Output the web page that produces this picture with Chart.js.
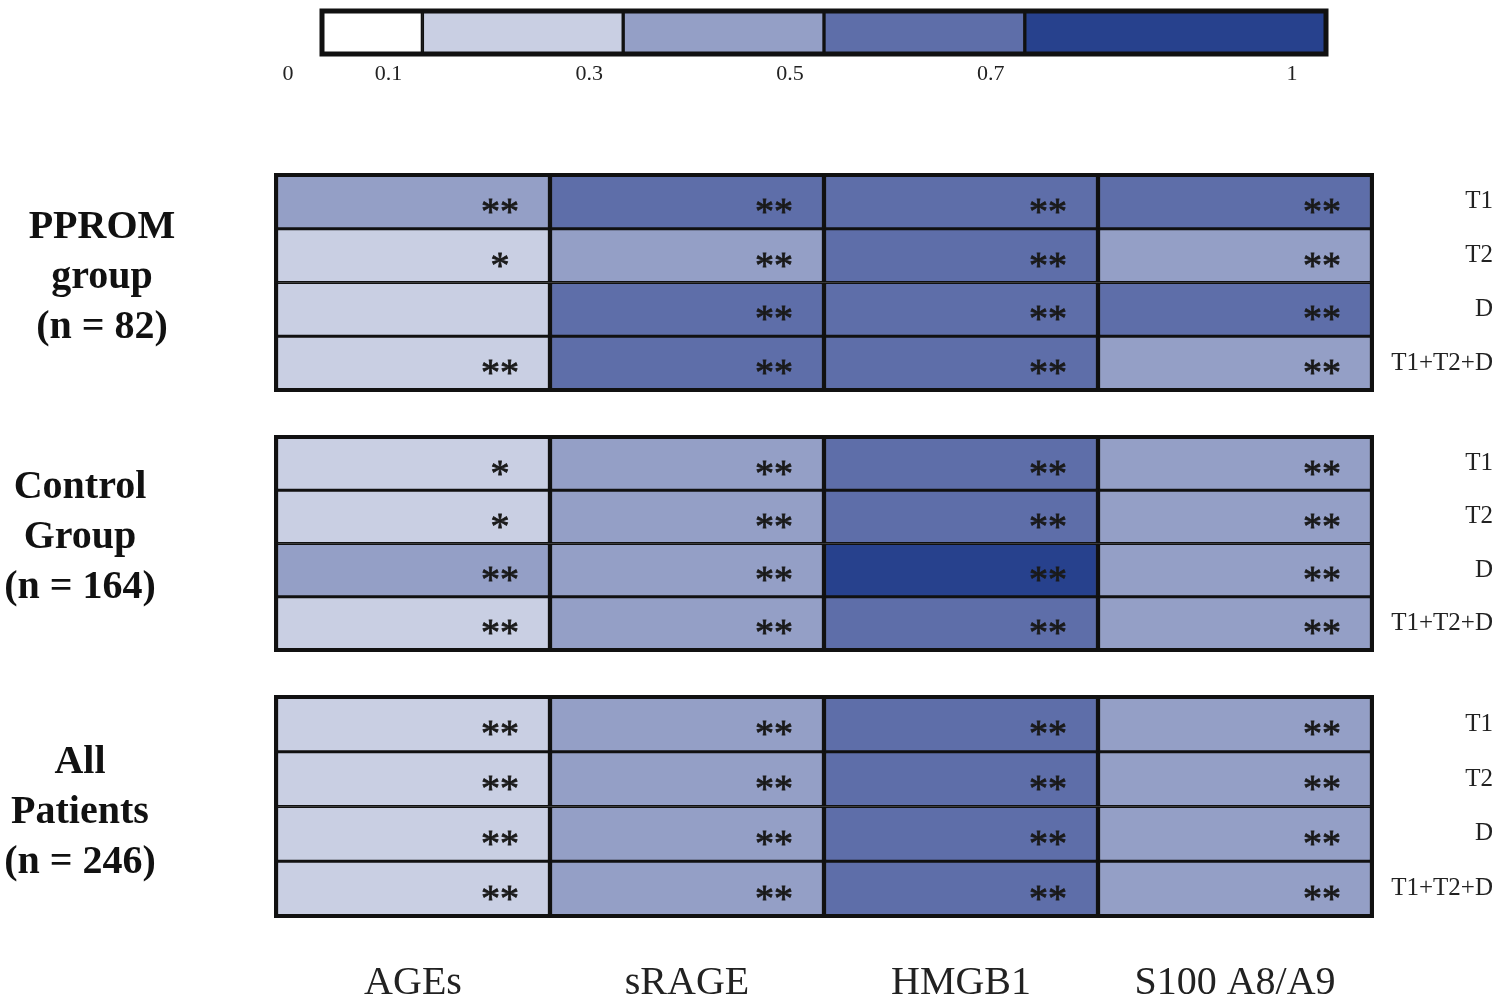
<!DOCTYPE html>
<html><head><meta charset="utf-8">
<script src="https://cdn.jsdelivr.net/npm/chart.js@4.4.0/dist/chart.umd.min.js"></script>
<style>
html,body{margin:0;padding:0;background:#fff;}
#wrap{position:relative;width:1500px;height:1001px;overflow:hidden;background:#fff;}
.cv{position:absolute;left:0;width:1500px;}
.glabel{position:absolute;width:200px;font-family:"Liberation Serif","Times New Roman",serif;font-weight:bold;font-size:40px;line-height:50px;text-align:center;color:#111;}
</style></head><body>
<div id="wrap">
  <div class="cv" style="top:0;height:100px"><canvas id="cbar"></canvas></div>
  <div class="cv" style="top:160px;height:245px"><canvas id="g1"></canvas></div>
  <div class="cv" style="top:422px;height:243px"><canvas id="g2"></canvas></div>
  <div class="cv" style="top:682px;height:319px"><canvas id="g3"></canvas></div>
  <div class="glabel" id="lab1" style="left:2px;top:200px"></div>
  <div class="glabel" id="lab2" style="left:-20px;top:460px"></div>
  <div class="glabel" id="lab3" style="left:-20px;top:735px"></div>
</div>
<script>
// ---- data ----
const columns = ['AGEs', 'sRAGE', 'HMGB1', 'S100 A8/A9'];
const timepoints = ['T1', 'T2', 'D', 'T1+T2+D'];
const groupLabels1 = ['PPROM', 'group', '(n = 82)'];
const groupLabels2 = ['Control', 'Group', '(n = 164)'];
const groupLabels3 = ['All', 'Patients', '(n = 246)'];
const colorBreaks = [0, 0.1, 0.3, 0.5, 0.7, 1];
const colorTickLabels = ['0', '0.1', '0.3', '0.5', '0.7', '1'];
const binColors = ['#ffffff', '#c9cfe3', '#949fc6', '#5e6ea9', '#27418d'];
// rows = timepoints, columns = markers
const ppromValues = [
  [0.4, 0.6, 0.6, 0.6],
  [0.2, 0.4, 0.6, 0.4],
  [0.2, 0.6, 0.6, 0.6],
  [0.2, 0.6, 0.6, 0.4]
];
const ppromSig = [
  ['**', '**', '**', '**'],
  ['*', '**', '**', '**'],
  ['', '**', '**', '**'],
  ['**', '**', '**', '**']
];
const controlValues = [
  [0.2, 0.4, 0.6, 0.4],
  [0.2, 0.4, 0.6, 0.4],
  [0.4, 0.4, 0.8, 0.4],
  [0.2, 0.4, 0.6, 0.4]
];
const controlSig = [
  ['*', '**', '**', '**'],
  ['*', '**', '**', '**'],
  ['**', '**', '**', '**'],
  ['**', '**', '**', '**']
];
const allValues = [
  [0.2, 0.4, 0.6, 0.4],
  [0.2, 0.4, 0.6, 0.4],
  [0.2, 0.4, 0.6, 0.4],
  [0.2, 0.4, 0.6, 0.4]
];
const allSig = [
  ['**', '**', '**', '**'],
  ['**', '**', '**', '**'],
  ['**', '**', '**', '**'],
  ['**', '**', '**', '**']
];

// ---- helpers ----
const SERIF = '"Liberation Serif", "Times New Roman", serif';
function colorFor(v) {
  for (let k = 0; k < binColors.length; k++) {
    if (v >= colorBreaks[k] && v < colorBreaks[k + 1]) return binColors[k];
  }
  return binColors[binColors.length - 1];
}
const framePlugin = {
  id: 'frame',
  afterDatasetsDraw(chart, args, opts) {
    const {ctx, chartArea: a} = chart;
    ctx.save();
    ctx.strokeStyle = '#111';
    ctx.lineWidth = opts.width || 4;
    ctx.strokeRect(a.left, a.top, a.right - a.left, a.bottom - a.top);
    ctx.restore();
  }
};
const starPlugin = {
  id: 'stars',
  afterDatasetsDraw(chart) {
    const ctx = chart.ctx;
    const size = 38;
    chart.data.datasets.forEach((ds, i) => {
      if (!ds.sig) return;
      const meta = chart.getDatasetMeta(i);
      meta.data.forEach((el, j) => {
        const s = ds.sig[j];
        if (!s) return;
        ctx.save();
        ctx.font = size + 'px ' + SERIF;
        ctx.fillStyle = '#1a1a1a';
        ctx.strokeStyle = '#1a1a1a';
        ctx.lineWidth = 0.8;
        ctx.textAlign = 'center';
        ctx.textBaseline = 'alphabetic';
        ctx.fillText(s, el.x - 50, el.y + 3 + size * 0.5);
        ctx.strokeText(s, el.x - 50, el.y + 3 + size * 0.5);
        ctx.restore();
      });
    });
  }
};

[['lab1', groupLabels1], ['lab2', groupLabels2], ['lab3', groupLabels3]].forEach(([id, lines]) => {
  document.getElementById(id).innerHTML = lines.map(t => t.replace(/&/g, '&amp;')).join('<br>');
});

// ---- colour bar ----
new Chart(document.getElementById('cbar'), {
  type: 'bar',
  data: {
    labels: [''],
    datasets: binColors.map((col, k) => ({
      data: [[colorBreaks[k], colorBreaks[k + 1]]],
      backgroundColor: col,
      borderColor: '#111',
      borderWidth: 2,
      borderSkipped: false,
      grouped: false,
      barPercentage: 1,
      categoryPercentage: 1
    }))
  },
  options: {
    indexAxis: 'y',
    responsive: true,
    maintainAspectRatio: false,
    animation: false,
    layout: {padding: {left: 322, right: 174, top: 11, bottom: 0}},
    plugins: {legend: {display: false}, tooltip: {enabled: false}, frame: {width: 5}},
    scales: {
      x: {
        type: 'linear', min: 0, max: 1,
        grid: {display: false, drawTicks: false},
        border: {display: false},
        afterBuildTicks: s => { s.ticks = colorBreaks.map(v => ({value: v})); },
        afterFit: s => { s.height = 46; },
        ticks: {
          padding: 7, labelOffset: -34, autoSkip: false, maxRotation: 0,
          callback: (v, i) => colorTickLabels[i],
          font: {family: SERIF, size: 22}, color: '#222'
        }
      },
      y: {display: false}
    }
  },
  plugins: [framePlugin]
});

// ---- heat map groups ----
function heatChart(id, values, sig, showX) {
  const datasets = columns.map((col, c) => ({
    label: col,
    data: timepoints.map(() => 1),
    backgroundColor: timepoints.map((t, r) => colorFor(values[r][c])),
    sig: timepoints.map((t, r) => sig[r][c]),
    borderColor: '#111',
    borderWidth: {top: 1.8, bottom: 1.8, left: 2.5, right: 2.5},
    borderSkipped: false,
    barPercentage: 1,
    categoryPercentage: 1
  }));
  new Chart(document.getElementById(id), {
    type: 'bar',
    data: {labels: timepoints, datasets},
    options: {
      indexAxis: 'y',
      responsive: true,
      maintainAspectRatio: false,
      animation: false,
      layout: {padding: {left: 276, right: 7, top: 11, bottom: showX ? 0 : 10}},
      plugins: {legend: {display: false}, tooltip: {enabled: false}, frame: {width: 4}},
      scales: {
        x: {
          type: 'linear', stacked: true, min: 0, max: columns.length,
          display: showX,
          grid: {display: false, drawTicks: false},
          border: {display: false},
          afterBuildTicks: s => { s.ticks = columns.map((c, i) => ({value: i + 0.5})); },
          afterFit: s => { if (showX) s.height = 85; },
          ticks: {
            autoSkip: false, maxRotation: 0, padding: 43,
            font: {family: SERIF, size: 40}, color: '#222',
            callback: (v, i) => columns[i]
          }
        },
        y: {
          position: 'right', stacked: true,
          grid: {display: false, drawTicks: false},
          border: {display: false},
          afterFit: s => { s.width = 121; },
          ticks: {crossAlign: 'far', padding: 0, font: {family: SERIF, size: 25}, color: '#222'}
        }
      }
    },
    plugins: [starPlugin, framePlugin]
  });
}
heatChart('g1', ppromValues, ppromSig, false);
heatChart('g2', controlValues, controlSig, false);
heatChart('g3', allValues, allSig, true);
</script>
</body></html>
